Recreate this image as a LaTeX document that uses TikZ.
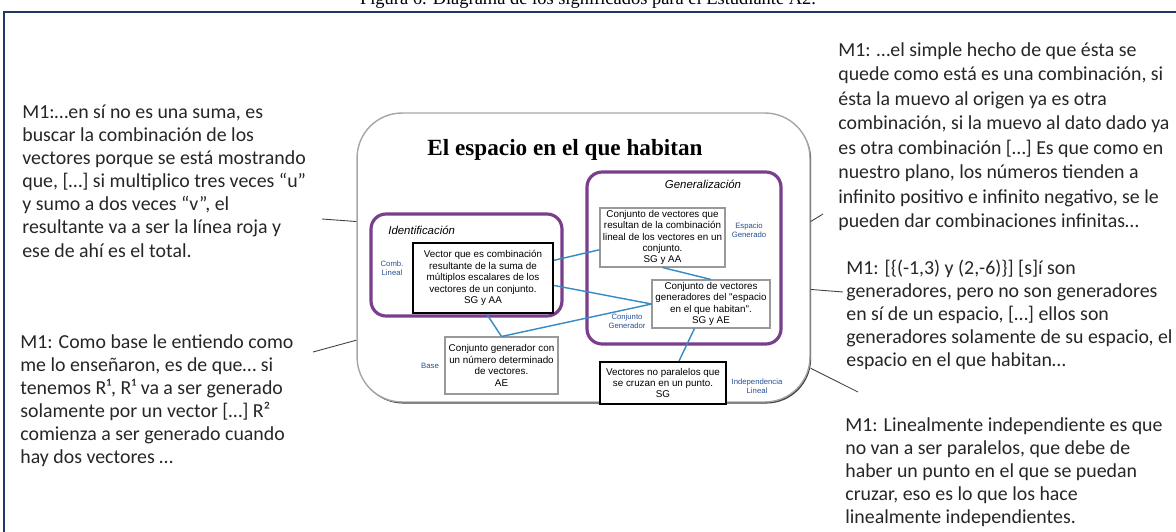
\documentclass[tikz,border=0pt]{standalone}
\usepackage{fontspec}
\usetikzlibrary{shadows}
\newfontfamily\calib{Carlito}
\newfontfamily\arialf{Liberation Sans}
\newfontfamily\timesf{Liberation Serif}
\definecolor{framenavy}{RGB}{31,56,100}
\definecolor{lilac}{RGB}{122,62,140}
\definecolor{tagblue}{RGB}{40,80,150}
\definecolor{linkblue}{RGB}{50,140,195}
\tikzset{
  quote/.style={anchor=north west, inner sep=0pt, align=left,
    font=\calib\fontsize{11.3}{13.1}\selectfont, text=black!85},
  concept/.style={draw=black!40, line width=0.6pt, fill=white, align=center,
    inner sep=1pt, font=\arialf\fontsize{5.6}{6.5}\selectfont},
  keybox/.style={concept, draw=black, line width=1.3pt},
  group/.style={draw=lilac, line width=1.8pt, rounded corners=0.3cm},
  tag/.style={text=tagblue, align=center, inner sep=0pt,
    font=\arialf\fontsize{4.4}{5.2}\selectfont},
  heading/.style={inner sep=0pt, font=\arialf\itshape\fontsize{6.5}{7.5}\selectfont},
  link/.style={draw=linkblue, line width=0.8pt},
  callout/.style={draw=black!75, line width=0.5pt}
}
\begin{document}
\begin{tikzpicture}[x=0.02cm, y=-0.02cm]
  \useasboundingbox (0,0) rectangle (1176,531);
  \clip (0,0) rectangle (1176,531);
  \node[anchor=base, inner sep=0pt, font=\timesf\fontsize{10.5}{12}\selectfont]
    (cap) at (588,4) {Figura 6. Diagrama de los significados para el Estudiante A2.};
  \draw[framenavy, line width=1.1pt] (4,540) -- (4,12) -- (1180,12);

  % main panel
  \node[draw=black!35, line width=0.8pt, fill=white, rounded corners=0.9cm,
    minimum width=9.06cm, minimum height=5.78cm,
    drop shadow={shadow xshift=0.7pt, shadow yshift=-0.9pt, fill=black!75, opacity=1}]
    (main) at (583.5,257.5) {};
  \node[font=\timesf\bfseries\fontsize{13.2}{15}\selectfont] (title) at (565,150)
    {El espacio en el que habitan};

  \node[group, minimum width=3.82cm, minimum height=2.04cm] (ident) at (466.5,265) {};
  \node[group, minimum width=3.88cm, minimum height=3.44cm] (gener) at (684,258) {};
  \node[heading, anchor=west] (identlbl) at (388,230) {Identificación};
  \node[heading] (generlbl) at (703,184) {Generalización};

  \node[keybox, minimum width=2.8cm, minimum height=1.4cm] (vec) at (483,278)
    {Vector que es combinación\\resultante de la suma de\\múltiplos escalares de los\\vectores de un conjunto.\\SG y AA};
  \node[concept, minimum width=2.5cm, minimum height=1.18cm] (spanset) at (662.5,237.5)
    {Conjunto de vectores que\\resultan de la combinación\\lineal de los vectores en un\\conjunto.\\SG y AA};
  \node[concept, minimum width=2.36cm, minimum height=0.96cm] (genset) at (711,304)
    {Conjunto de vectores\\generadores del "espacio\\en el que habitan".\\SG y AE};
  \node[concept, minimum width=2.26cm, minimum height=1.14cm] (basis) at (501.5,365.5)
    {Conjunto generador con\\un número determinado\\de vectores.\\AE};
  \node[keybox, minimum width=2.52cm, minimum height=0.84cm] (indep) at (663,383)
    {Vectores no paralelos que\\se cruzan en un punto.\\SG};

  \node[tag] (comb) at (392,268) {Comb.\\Lineal};
  \node[tag] (espgen) at (749,230) {Espacio\\Generado};
  \node[tag] (conjgen) at (627,321) {Conjunto\\Generador};
  \node[tag] (baselbl) at (430,366) {Base};
  \node[tag] (indlbl) at (757,386) {Independencia\\Lineal};

  \begin{scope}[link]
    \draw (vec.14) to (spanset.191);
    \draw (vec.-6) to (genset.west);
    \draw (vec.-84) to (basis.north);
    \draw (basis.north) to (genset.west);
    \draw (spanset.south) to (genset.north);
    \draw (genset.236) to (indep.54);
  \end{scope}

  % quotes
  \node[quote] (qtl) at (22,105)
    {M1:…en sí no es una suma, es\\buscar la combinación de los\\vectores porque se está mostrando\\que, […] si multiplico tres veces “u”\\y sumo a dos veces “v”, el\\resultante va a ser la línea roja y\\ese de ahí es el total.};
  \node[quote] (qbl) at (20,334)
    {M1: Como base le entiendo como\\me lo enseñaron, es de que… si\\tenemos R¹, R¹ va a ser generado\\solamente por un vector […] R²\\comienza a ser generado cuando\\hay dos vectores …};
  \node[quote, font=\calib\fontsize{11.3}{13.95}\selectfont] (qtr) at (838,42)
    {M1: …el simple hecho de que ésta se\\quede como está es una combinación, si\\ésta la muevo al origen ya es otra\\combinación, si la muevo al dato dado ya\\es otra combinación […] Es que como en\\nuestro plano, los números tienden a\\infinito positivo e infinito negativo, se le\\pueden dar combinaciones infinitas…};
  \node[quote] (qmr) at (846,260)
    {M1: [\{(-1,3) y (2,-6)\}] [s]í son\\generadores, pero no son generadores\\en sí de un espacio, […] ellos son\\generadores solamente de su espacio, el\\espacio en el que habitan…};
  \node[quote] (qbr) at (845,417)
    {M1: Linealmente independiente es que\\no van a ser paralelos, que debe de\\haber un punto en el que se puedan\\cruzar, eso es lo que los hace\\linealmente independientes.};

  \coordinate (tl) at (322,219);
  \coordinate (bl) at (313,352);
  \coordinate (tr) at (823,214);
  \coordinate (mr) at (843,292);
  \coordinate (br) at (858,392);
  \begin{scope}[callout]
    \draw (main.171) to (tl);
    \draw (main.200) to (bl);
    \draw (main.9) to (tr);
    \draw (main.-8) to (mr);
    \draw (main.-26) to (br);
  \end{scope}
\end{tikzpicture}
\end{document}
